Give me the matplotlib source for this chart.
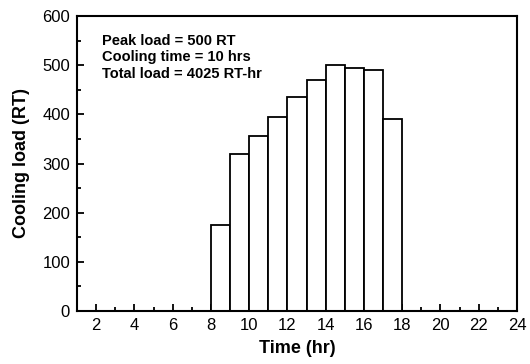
import matplotlib
matplotlib.use("Agg")
import matplotlib.pyplot as plt
from matplotlib.ticker import MultipleLocator

hours = [8, 9, 10, 11, 12, 13, 14, 15, 16, 17]
loads = [175, 320, 355, 395, 435, 470, 500, 495, 490, 390]
xticks = [2, 4, 6, 8, 10, 12, 14, 16, 18, 20, 22, 24]
annot = ["Peak load = 500 RT", "Cooling time = 10 hrs", "Total load = 4025 RT-hr"]

plt.rcParams['font.family'] = ['Liberation Sans', 'DejaVu Sans']

fig = plt.figure(figsize=(5.3, 3.64), dpi=100)
ax = fig.add_axes([77/530, 1-311/364, 440/530, 295/364])

ax.bar(hours, loads, width=1.0, align='edge', facecolor='white', edgecolor='black', linewidth=1.3, zorder=2)

ax.set_xlim(1, 24)
ax.set_ylim(0, 600)
ax.set_xticks(xticks)
ax.xaxis.set_minor_locator(MultipleLocator(1))
ax.yaxis.set_major_locator(MultipleLocator(100))
ax.yaxis.set_minor_locator(MultipleLocator(50))
ax.tick_params(which='both', direction='in', top=False, right=False, width=1.3, labelsize=12)
ax.tick_params(which='major', length=5, pad=5)
ax.tick_params(which='minor', length=3)
for s in ax.spines.values():
    s.set_linewidth(1.5)

ax.set_xlabel("Time (hr)", fontsize=13, fontweight='bold', labelpad=5)
ax.set_ylabel("Cooling load (RT)", fontsize=13, fontweight='bold', labelpad=9)

ax.text(0.057, 0.94, "\n".join(annot), transform=ax.transAxes, fontsize=10.5, fontweight='bold',
        va='top', ha='left', linespacing=1.25)

fig.savefig("out.png", dpi=100)
